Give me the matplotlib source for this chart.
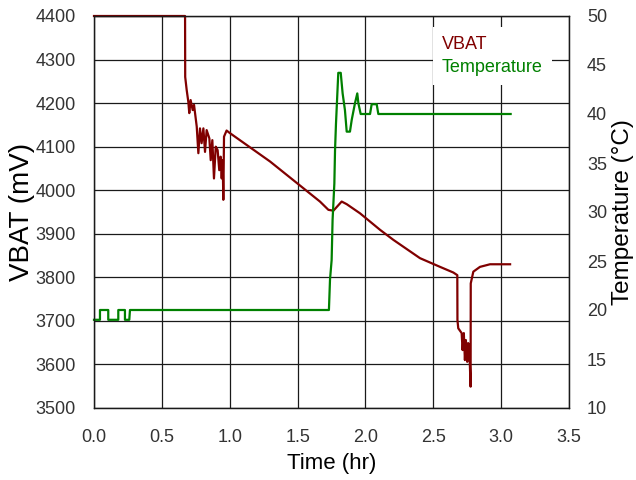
import matplotlib
matplotlib.use("Agg")
import matplotlib.pyplot as plt
from matplotlib.lines import Line2D

plt.rcParams['font.family'] = ['Liberation Sans', 'DejaVu Sans']

# VBAT (mV) vs time (hr)
vbat_t = [0, 0.671, 0.672, 0.683, 0.695, 0.702, 0.712, 0.727, 0.737, 0.757, 0.769,
          0.781, 0.793, 0.806, 0.818, 0.830, 0.850, 0.860, 0.872, 0.884, 0.897,
          0.911, 0.923, 0.933, 0.941, 0.948, 0.953, 0.958, 0.977, 1.002, 1.297,
          1.665, 1.727, 1.764, 1.825, 1.862, 1.960, 2.108, 2.206, 2.402, 2.550,
          2.648, 2.677, 2.678, 2.684, 2.709, 2.716, 2.725, 2.733, 2.740, 2.750,
          2.757, 2.765, 2.775, 2.776, 2.795, 2.844, 2.918, 3.066]
vbat_mv = [4400, 4400, 4260, 4230, 4203, 4177, 4207, 4184, 4196, 4146, 4085,
           4142, 4108, 4142, 4088, 4138, 4119, 4069, 4115, 4027, 4100,
           4092, 4046, 4077, 4027, 4069, 3978, 4123, 4137, 4131, 4066,
           3974, 3955, 3953, 3974, 3968, 3947, 3909, 3886, 3844, 3824,
           3811, 3805, 3702, 3683, 3672, 3633, 3672, 3610, 3656, 3606,
           3649, 3640, 3549, 3786, 3813, 3824, 3830, 3830]

# Temperature (C) vs time (hr)
temp_t = [0, 0.044, 0.044, 0.105, 0.105, 0.179, 0.179, 0.228, 0.228, 0.260, 0.265,
          1.731, 1.739, 1.751, 1.758, 1.771, 1.776, 1.783, 1.800, 1.818, 1.832,
          1.849, 1.862, 1.886, 1.899, 1.923, 1.940, 1.948, 1.965, 2.034, 2.046,
          2.083, 2.095, 3.07]
temp_c = [19, 19, 20, 20, 19, 19, 20, 20, 19, 19, 20,
          20, 23.1, 25.1, 29.2, 32.9, 36.3, 39.0, 44.2, 44.2, 42.1,
          40.4, 38.2, 38.2, 39.4, 41.1, 42.1, 41.1, 40, 40, 41,
          41, 40, 40]

x_ticks = [0.0, 0.5, 1.0, 1.5, 2.0, 2.5, 3.0, 3.5]
vbat_ticks = list(range(3500, 4401, 100))
temp_ticks = list(range(10, 51, 5))

vbat_color = '#800000'
temp_color = '#008000'
tick_color = '#333333'

fig = plt.figure(figsize=(6.36, 4.8), dpi=100)
ax = fig.add_axes([94/636, 72/480, 475/636, 392/480])
ax2 = ax.twinx()

ax.plot(vbat_t, vbat_mv, color=vbat_color, lw=1.6, clip_on=False, label='VBAT')
ax2.plot(temp_t, temp_c, color=temp_color, lw=1.6, clip_on=False, label='Temperature')

ax.set_xlim(0, 3.5)
ax.set_ylim(3500, 4400)
ax2.set_ylim(10, 50)
ax.set_xticks(x_ticks)
ax.set_xticklabels([f'{v:.1f}' for v in x_ticks])
ax.set_yticks(vbat_ticks)
ax2.set_yticks(temp_ticks)

ax.grid(True, color='#1a1a1a', lw=0.9)
ax.set_axisbelow(True)
ax.tick_params(axis='both', length=0, labelsize=13, labelcolor=tick_color)
ax.tick_params(axis='y', pad=13)
ax.tick_params(axis='x', pad=15)
ax2.tick_params(axis='y', length=0, labelsize=13, labelcolor=tick_color, pad=13)

for a in (ax, ax2):
    for s in a.spines.values():
        s.set_color('#1a1a1a')
        s.set_linewidth(0.9)

ax.set_xlabel('Time (hr)', fontsize=16, labelpad=5)
ax.set_ylabel('VBAT (mV)', fontsize=20, va='center')
ax.yaxis.set_label_coords((22 - 94) / 475, 0.5)
ax2.set_ylabel('Temperature (°C)', fontsize=17.5, va='center', rotation=90)
ax2.yaxis.set_label_coords((623 - 94) / 475, 0.5)

handles = [Line2D([], [], color=vbat_color), Line2D([], [], color=temp_color)]
leg = ax2.legend(handles, ['VBAT', 'Temperature'], loc='upper left',
                 bbox_to_anchor=((433-94)/475, (408-27)/392),
                 handlelength=0, handletextpad=0, fontsize=13,
                 labelcolor=[vbat_color, temp_color], frameon=True,
                 fancybox=False, framealpha=1, borderpad=0.5, labelspacing=0.35,
                 borderaxespad=0)
leg.get_frame().set_edgecolor('none')
leg.get_frame().set_facecolor('white')
for h in leg.legend_handles:
    h.set_visible(False)

fig.savefig('out.png', dpi=100)
